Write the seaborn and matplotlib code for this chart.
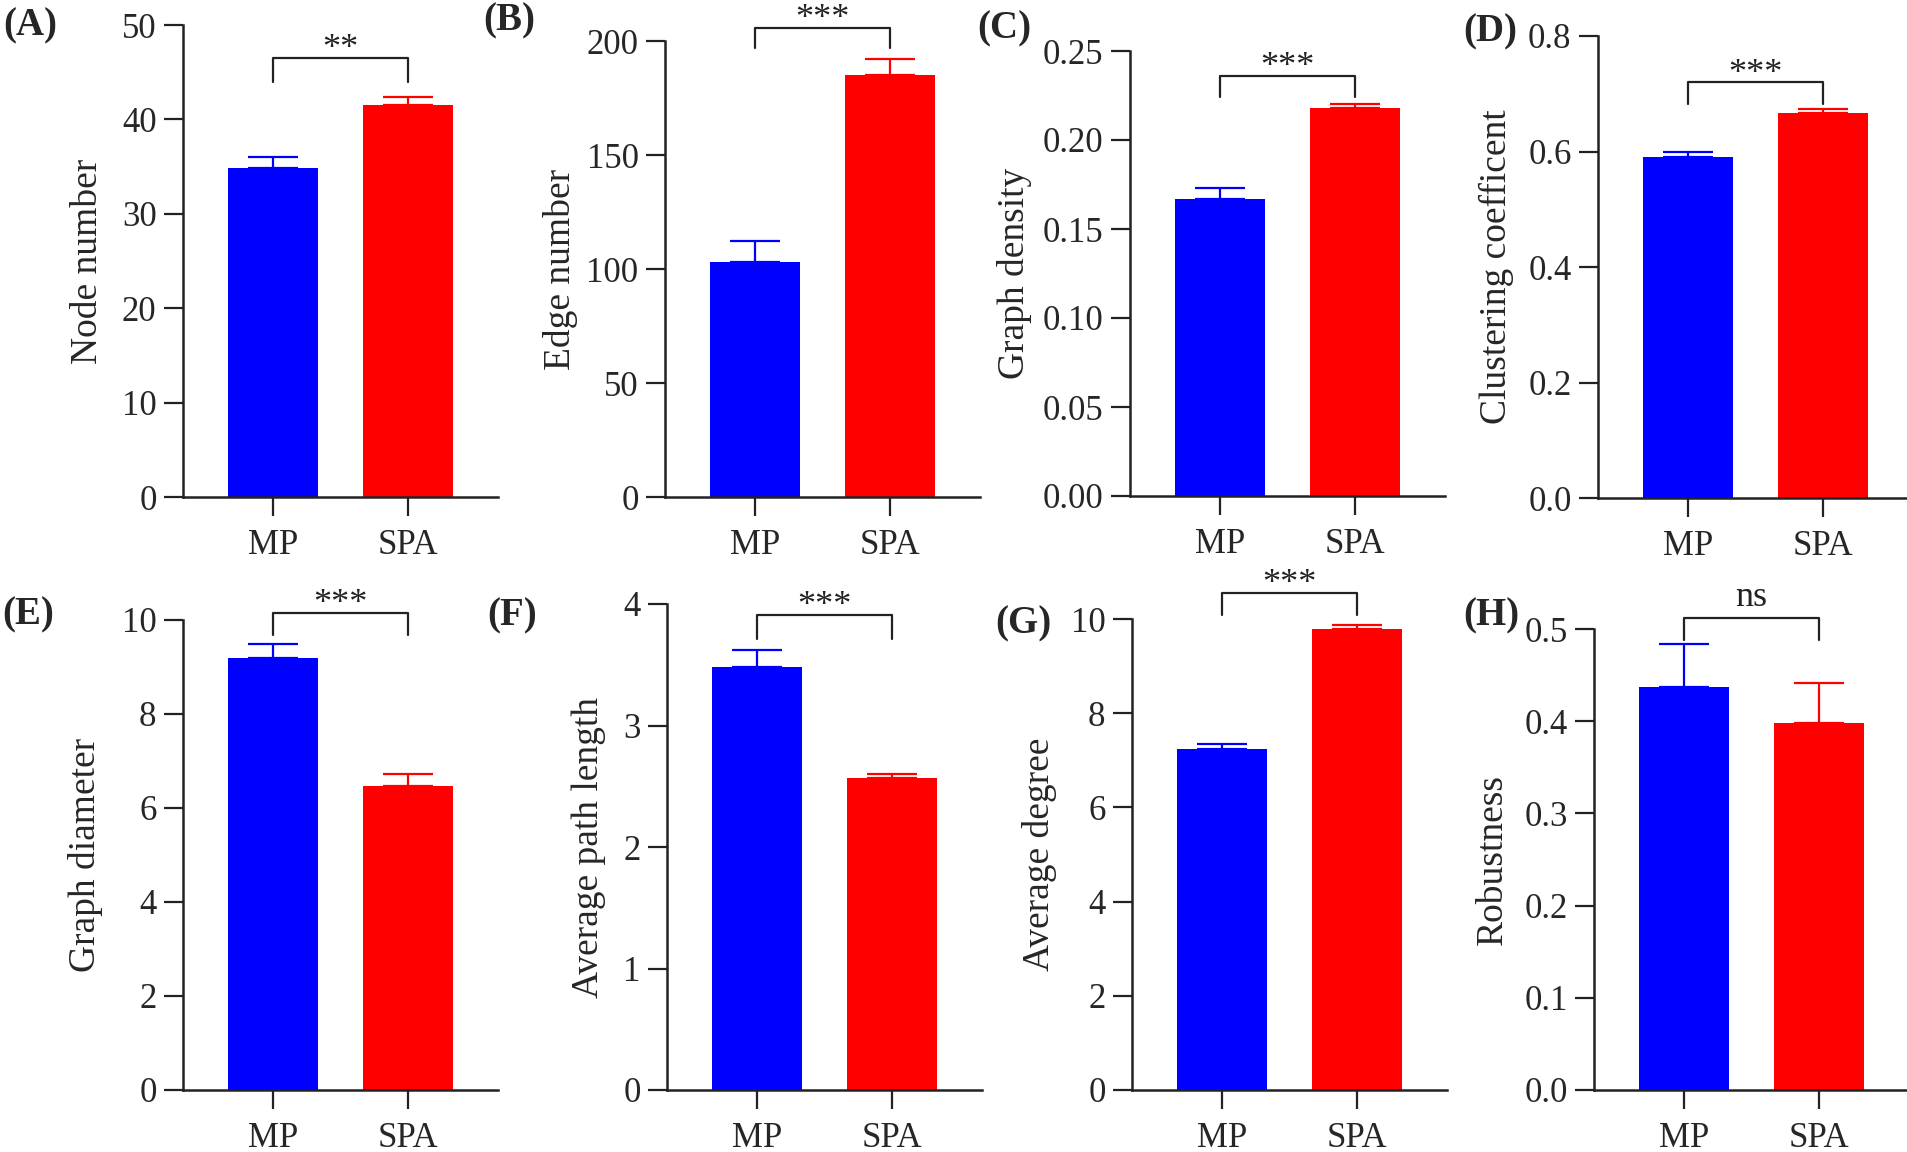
import matplotlib
matplotlib.use("Agg")
import matplotlib.pyplot as plt
import numpy as np
import pandas as pd
import seaborn as sns

groups = ["MP", "SPA"]
bar_colors = ["#0000FF", "#FF0000"]

node_number = [34.9, 41.5]
node_number_sem = [1.1, 0.9]
edge_number = [103.1, 185.1]
edge_number_sem = [9.2, 6.9]
graph_density = [0.167, 0.218]
graph_density_sem = [0.006, 0.002]
clustering_coef = [0.590, 0.666]
clustering_coef_sem = [0.009, 0.007]
graph_diameter = [9.19, 6.47]
graph_diameter_sem = [0.30, 0.26]
avg_path_length = [3.48, 2.57]
avg_path_length_sem = [0.14, 0.03]
avg_degree = [7.24, 9.79]
avg_degree_sem = [0.11, 0.08]
robustness = [0.437, 0.398]
robustness_sem = [0.047, 0.043]

panel_tags = ["(A)", "(B)", "(C)", "(D)", "(E)", "(F)", "(G)", "(H)"]
y_titles = ["Node number", "Edge number", "Graph density", "Clustering coefficent",
            "Graph diameter", "Average path length", "Average degree", "Robustness"]
signif = ["**", "***", "***", "***", "***", "***", "***", "ns"]
bracket_top = [46.5, 205.7, 0.236, 0.72, 10.15, 3.91, 10.55, 0.512]
bracket_leg = [44.0, 197.0, 0.224, 0.683, 9.68, 3.71, 10.08, 0.488]

means = [node_number, edge_number, graph_density, clustering_coef,
         graph_diameter, avg_path_length, avg_degree, robustness]
sems = [node_number_sem, edge_number_sem, graph_density_sem, clustering_coef_sem,
        graph_diameter_sem, avg_path_length_sem, avg_degree_sem, robustness_sem]

# axis ranges / tick formats
y_max = [50, 200, 0.25, 0.8, 10, 4, 10, 0.5]
y_step = [10, 50, 0.05, 0.2, 2, 1, 2, 0.1]
y_fmt = ["{:.0f}", "{:.0f}", "{:.2f}", "{:.1f}", "{:.0f}", "{:.0f}", "{:.0f}", "{:.1f}"]

# layout in pixels: spine x, top y, bottom y, ylabel offset, tag x, tag y
W, H = 1908, 1152
layout = [
    (183, 25, 497, 98, 3, 7),
    (665, 41, 497, 107, 483, 2),
    (1130, 51, 496, 118, 977, 10),
    (1598, 36, 498, 104, 1463, 13),
    (183, 620, 1090, 100, 2, 596),
    (667, 604, 1090, 81, 487, 597),
    (1132, 619, 1090, 95, 995, 605),
    (1594, 629, 1090, 104, 1463, 597),
]
ax_w = 315

sns.set_style("ticks")
plt.rcParams["font.family"] = ["Liberation Serif", "DejaVu Serif"]
plt.rcParams["axes.linewidth"] = 1.8
plt.rcParams["axes.edgecolor"] = "#222222"

fig = plt.figure(figsize=(W / 100, H / 100), dpi=100)

for i in range(8):
    x0, ytop, ybot, lab_dx, tx, ty = layout[i]
    ax = fig.add_axes([x0 / W, 1 - ybot / H, ax_w / W, (ybot - ytop) / H])
    df = pd.DataFrame({"group": groups, "value": means[i]})
    sns.barplot(data=df, x="group", y="value", hue="group", palette=bar_colors,
                width=0.667, saturation=1, errorbar=None, legend=False,
                linewidth=0, ax=ax)
    for j in range(2):
        ax.errorbar(j, means[i][j], yerr=[[0], [sems[i][j]]], fmt="none",
                    ecolor=bar_colors[j], elinewidth=1.6, capsize=18, capthick=1.6)
    ax.set_xlim(-0.667, 1.667)
    ax.set_ylim(0, y_max[i])
    ticks = np.round(np.arange(0, y_max[i] + y_step[i] / 2, y_step[i]), 4)
    ax.set_yticks(ticks)
    ax.set_yticklabels([y_fmt[i].format(t) for t in ticks])
    sns.despine(ax=ax)
    ax.tick_params(axis="both", length=14, width=1.6, color="#222222", labelsize=25)
    ax.tick_params(axis="x", pad=9)
    ax.tick_params(axis="y", pad=5)
    ax.set_xlabel("")
    ax.set_ylabel(y_titles[i], fontsize=27)
    ax.yaxis.set_label_coords(-(lab_dx - 20) / ax_w, 0.5)
    # significance bracket
    ax.plot([0, 0, 1, 1], [bracket_leg[i], bracket_top[i], bracket_top[i], bracket_leg[i]],
            color="#222222", lw=1.6, clip_on=False)
    dy = 3 if signif[i] == "ns" else -6
    ax.annotate(signif[i], xy=(0.5, bracket_top[i]), xytext=(0, dy),
                textcoords="offset points", ha="center", va="bottom",
                fontsize=26, color="#222222", annotation_clip=False)
    fig.text(tx / W, 1 - ty / H, panel_tags[i], ha="left", va="top",
             fontsize=28, fontweight="bold")

fig.savefig("out.png", dpi=100)
